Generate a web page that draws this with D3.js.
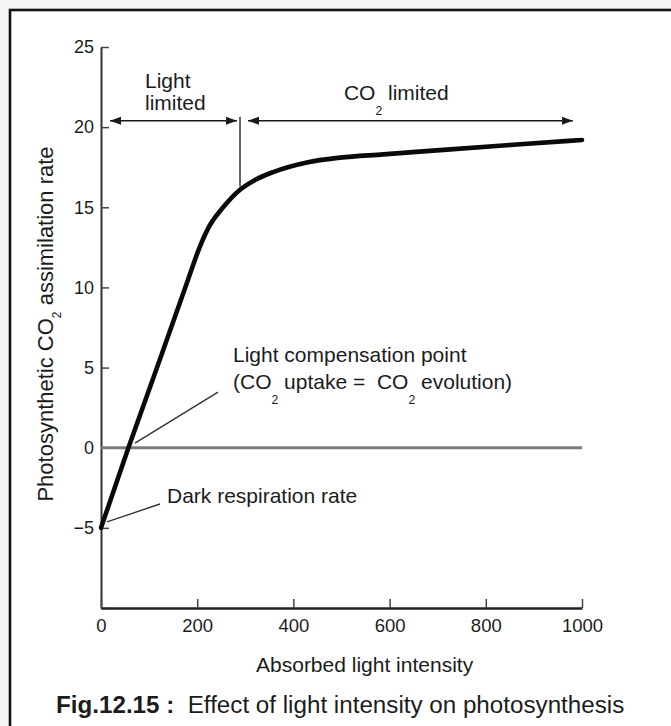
<!DOCTYPE html>
<html><head><meta charset="utf-8">
<script src="https://cdn.jsdelivr.net/npm/d3@7"></script>
<style>
html,body{margin:0;padding:0;background:#f5f5f5;}
svg{display:block;}
text{font-family:"Liberation Sans",Arial,Helvetica,sans-serif;fill:#1c1c1c;white-space:pre;}
</style></head><body>
<svg id="chart" width="671" height="726"></svg>
<script>
// ---- data ----
const xTickValues = [0, 200, 400, 600, 800, 1000];
const xTickLabels = ["0", "200", "400", "600", "800", "1000"];
const yTickValues = [-10, -5, 0, 5, 10, 15, 20, 25];
const yTickLabels = ["", "\u22125", "0", "5", "10", "15", "20", "25"];
const lightIntensity = [0, 57, 120, 180, 205, 223, 254, 289, 320, 358, 428, 497, 587, 719, 857, 1000];
const assimilationRate = [-5, 0, 5.3, 10.4, 12.5, 13.7, 15.0, 16.1, 16.7, 17.2, 17.8, 18.1, 18.3, 18.6, 18.9, 19.2];
const zeroLineX = [0, 1000];
const regionBoundaryX = 289;
const regionBoundaryY = [16.3, 20.65];
const arrowLevel = 20.4;
const lightLimitedSpan = [18.7, 282.7];
const co2LimitedSpan = [305.6, 981];
const compensationLeader = [[70.7, 0.29], [243.2, 3.47]];
const darkLeader = [[12.5, -4.63], [122.7, -3.51]];

// ---- layout ----
const svg = d3.select("#chart");
const x = d3.scaleLinear().domain([0, 1000]).range([101, 582]);
const y = d3.scaleLinear().domain([-10, 25]).range([608, 47]);

// frame
svg.append("rect").attr("x", 10).attr("y", 10).attr("width", 720).attr("height", 760)
  .attr("fill", "#ffffff").attr("stroke", "#111").attr("stroke-width", 2.6);

// defs: arrow heads
const defs = svg.append("defs");
defs.append("marker").attr("id", "arr").attr("markerUnits", "userSpaceOnUse")
  .attr("markerWidth", 12).attr("markerHeight", 10).attr("refX", 11).attr("refY", 4)
  .attr("orient", "auto-start-reverse").attr("viewBox", "0 0 12 8")
  .append("path").attr("d", "M0,0 L11,4 L0,8 Z").attr("fill", "#1a1a1a");

// axes
const yAxis = d3.axisLeft(y).tickValues(yTickValues)
  .tickFormat((d, i) => yTickLabels[i]).tickSizeInner(-8).tickSizeOuter(0).tickPadding(7);
const gy = svg.append("g").attr("transform", `translate(${x(0)},0)`).call(yAxis);
gy.select(".domain").attr("stroke", "#333").attr("stroke-width", 2);
gy.selectAll(".tick line").attr("stroke", "#444").attr("stroke-width", 1.5);
gy.selectAll(".tick text").attr("font-size", 18).attr("fill", "#222")
  .attr("font-family", "Liberation Sans, Arial, sans-serif");

const xAxis = d3.axisBottom(x).tickValues(xTickValues)
  .tickFormat((d, i) => xTickLabels[i]).tickSizeInner(-9).tickSizeOuter(0).tickPadding(11);
const gx = svg.append("g").attr("transform", `translate(0,${y(-10)})`).call(xAxis);
gx.select(".domain").attr("stroke", "#222").attr("stroke-width", 2.4);
gx.selectAll(".tick line").attr("stroke", "#444").attr("stroke-width", 1.5);
gx.selectAll(".tick text").attr("font-size", 18.5).attr("fill", "#222")
  .attr("font-family", "Liberation Sans, Arial, sans-serif");

// zero line
svg.append("line").attr("x1", x(zeroLineX[0])).attr("x2", x(zeroLineX[1]))
  .attr("y1", y(0)).attr("y2", y(0)).attr("stroke", "#7a7a7a").attr("stroke-width", 3);

// leader lines
[compensationLeader, darkLeader].forEach(seg => {
  svg.append("line").attr("x1", x(seg[0][0])).attr("y1", y(seg[0][1]))
    .attr("x2", x(seg[1][0])).attr("y2", y(seg[1][1]))
    .attr("stroke", "#333").attr("stroke-width", 1.4);
});

// main curve
const pts = lightIntensity.map((d, i) => [d, assimilationRate[i]]);
svg.append("path").datum(pts)
  .attr("d", d3.line().x(d => x(d[0])).y(d => y(d[1])).curve(d3.curveMonotoneX))
  .attr("fill", "none").attr("stroke", "#0a0a0a").attr("stroke-width", 4.6)
  .attr("stroke-linecap", "round").attr("stroke-linejoin", "round");

// region boundary
svg.append("line").attr("x1", x(regionBoundaryX)).attr("x2", x(regionBoundaryX))
  .attr("y1", y(regionBoundaryY[0])).attr("y2", y(regionBoundaryY[1]))
  .attr("stroke", "#444").attr("stroke-width", 1.6);

// double arrows
[lightLimitedSpan, co2LimitedSpan].forEach(s => {
  svg.append("line").attr("x1", x(s[0])).attr("x2", x(s[1]))
    .attr("y1", y(arrowLevel)).attr("y2", y(arrowLevel))
    .attr("stroke", "#1a1a1a").attr("stroke-width", 1.6)
    .attr("marker-start", "url(#arr)").attr("marker-end", "url(#arr)");
});

// annotation text helper: parts = [[text, isSub]]
function richText(px, py, parts, size, anchor) {
  const t = svg.append("text").attr("x", px).attr("y", py).attr("font-size", size)
    .attr("text-anchor", anchor || "start");
  let shifted = false;
  parts.forEach(p => {
    const ts = t.append("tspan").text(p[0]);
    if (p[1]) { ts.attr("font-size", size * 0.58).attr("dy", size * 0.7); shifted = true; }
    else if (shifted) { ts.attr("dy", -size * 0.7); shifted = false; }
  });
  return t;
}

richText(x(91.5), y(22.44), [["Light"]], 21);
richText(x(91.5), y(21.07), [["limited"]], 21);
richText(x(505), y(21.69), [["CO"], ["2", true], [" limited"]], 21);
richText(x(274.4), y(5.35), [["Light compensation point"]], 21);
richText(x(274.4), y(3.66), [["(CO"], ["2", true], [" uptake =  CO"], ["2", true], [" evolution)"]], 21);
richText(x(137.2), y(-3.45), [["Dark respiration rate"]], 21);

// axis titles
svg.append("text").attr("x", x(548)).attr("y", 672).attr("text-anchor", "middle")
  .attr("font-size", 21).text("Absorbed light intensity");

const yt = svg.append("text").attr("transform", `translate(53,${y(7.72)}) rotate(-90)`)
  .attr("text-anchor", "middle").attr("font-size", 22);
yt.append("tspan").text("Photosynthetic CO");
yt.append("tspan").text("2").attr("font-size", 12).attr("dy", 8);
yt.append("tspan").text(" assimilation rate").attr("dy", -8);

// caption
const cap = svg.append("text").attr("x", 56).attr("y", 713).attr("font-size", 24.2);
cap.append("tspan").text("Fig.12.15 :").attr("font-weight", "bold");
cap.append("tspan").text("  Effect of light intensity on photosynthesis");
</script>
</body></html>
